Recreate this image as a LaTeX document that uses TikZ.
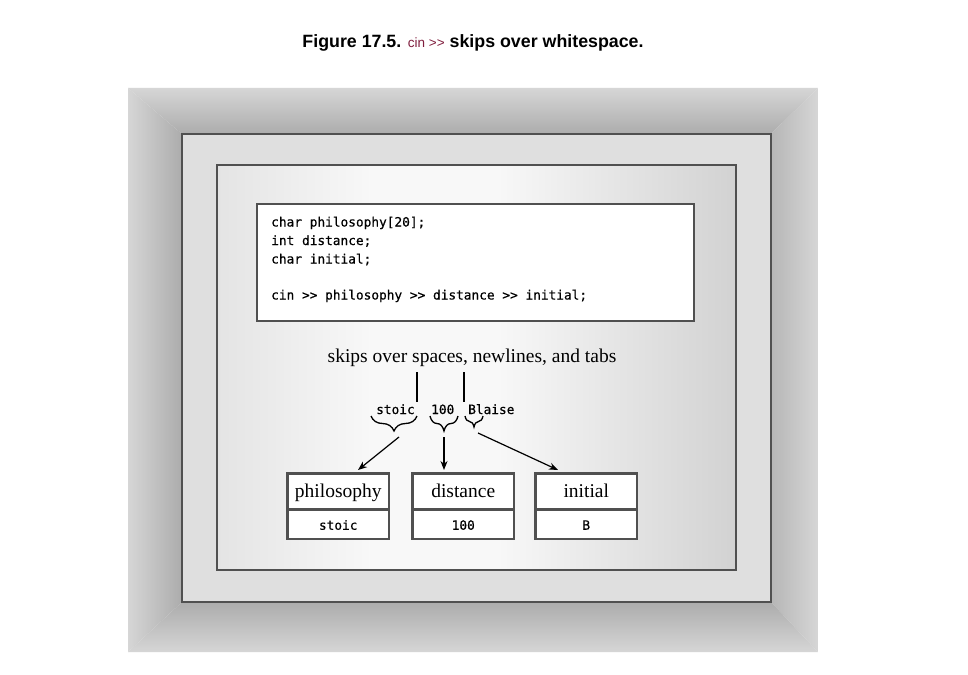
\documentclass[tikz,border=0pt]{standalone}
\usepackage{fontspec}
\setmainfont{Liberation Serif}
\newfontfamily\titlefont{Liberation Sans}
\newfontfamily\codefont[FakeBold=0.5]{DejaVu Sans Mono}
\usetikzlibrary{decorations.pathreplacing,arrows.meta}
\definecolor{frlight}{HTML}{D6D6D6}
\definecolor{frdark}{HTML}{ACACAC}
\definecolor{frdarkR}{HTML}{B6B6B6}
\definecolor{midgray}{HTML}{DFDFDF}
\definecolor{bordergray}{HTML}{505050}
\definecolor{inA}{HTML}{E4E4E4}
\definecolor{inB}{HTML}{F8F8F8}
\definecolor{inC}{HTML}{D2D2D2}
\definecolor{maroon}{RGB}{128,30,62}
\pgfdeclarehorizontalshading{innershade}{100bp}{color(0bp)=(inA); color(25bp)=(inA); color(40bp)=(inB); color(52bp)=(inB); color(75bp)=(inC); color(100bp)=(inC)}
\tikzset{
  frameline/.style={draw=bordergray, line width=2pt},
  codetext/.style={anchor=base west, inner sep=0pt, font=\codefont\fontsize{12.8}{14}\selectfont},
  serifbig/.style={font=\fontsize{19.5}{22}\selectfont},
  boxtop/.style={draw=bordergray, line width=1.5pt, fill=white, minimum width=101pt, minimum height=35pt, inner sep=0pt, text height=14pt, text depth=1pt, serifbig},
  boxbot/.style={draw=bordergray, line width=1.5pt, fill=white, minimum width=101pt, minimum height=28pt, inner sep=0pt, text height=11pt, text depth=0pt, font=\codefont\fontsize{12.8}{14}\selectfont},
  outline/.style={draw=bordergray, line width=1.6pt},
  bracedeco/.style={decorate, decoration={brace, mirror, amplitude=#1}, line width=1.3pt},
  arr/.style={-{Stealth[length=9pt,width=7pt]}, line width=1.2pt},
  vline/.style={line width=1.2pt}
}
\begin{document}
\begin{tikzpicture}[x=1pt,y=-1pt]
\useasboundingbox (0,0) rectangle (968,674);
\fill[white] (0,0) rectangle (968,674);
% title
\node[anchor=base, inner sep=0pt] (title) at (473,48) {\titlefont\fontsize{17.8}{20}\selectfont\bfseries Figure 17.5. {\mdseries\fontsize{13.5}{16}\selectfont\color{maroon}cin >>} skips over whitespace.};
% outer beveled frame
\begin{scope}
\clip (128,88) -- (818,88) -- (771,134) -- (182,134) -- cycle;
\shade[top color=frlight, bottom color=frdark] (128,88) rectangle (818,134);
\end{scope}
\begin{scope}
\clip (128,88) -- (182,134) -- (182,602) -- (128,652) -- cycle;
\shade[left color=frlight, right color=frdark] (128,88) rectangle (182,652);
\end{scope}
\begin{scope}
\clip (818,88) -- (771,134) -- (771,602) -- (818,652) -- cycle;
\shade[left color=frdarkR, right color=frlight] (771,88) rectangle (818,652);
\end{scope}
\begin{scope}
\clip (128,652) -- (182,602) -- (771,602) -- (818,652) -- cycle;
\shade[top color=frdark, bottom color=frlight] (128,602) rectangle (818,652);
\end{scope}
% middle panel
\fill[midgray] (182,134) rectangle (771,602);
\draw[frameline] (182,134) rectangle (771,602);
% inner panel
\shade[shading=innershade] (217,165) rectangle (736,570);
\draw[frameline] (217,165) rectangle (736,570);
% code box
\node[draw=bordergray, line width=2pt, fill=white, anchor=north west, minimum width=437pt, minimum height=117pt, inner sep=0pt] (code) at (256,203) {};
\node[codetext] (l1) at (271,226.5) {char philosophy[20];};
\node[codetext] (l2) at (271,245) {int distance;};
\node[codetext] (l3) at (271,263.5) {char initial;};
\node[codetext] (l4) at (271,299.5) {cin >> philosophy >> distance >> initial;};
% annotation
\node[anchor=base, inner sep=0pt, serifbig] (note) at (472,362) {skips over spaces, newlines, and tabs};
\coordinate (v1a) at (417,372); \coordinate (v1b) at (417,402);
\coordinate (v2a) at (464,372); \coordinate (v2b) at (464,402);
\draw[vline] (v1a) -- (v1b);
\draw[vline] (v2a) -- (v2b);
% input tokens
\node[codetext] (tstoic) at (376,414) {stoic};
\node[codetext] (t100) at (431,414) {100};
\node[codetext] (tblaise) at (468,414) {Blaise};
\coordinate (b1l) at (371,416); \coordinate (b1r) at (417,416);
\coordinate (b2l) at (430,416); \coordinate (b2r) at (458,416);
\coordinate (b3l) at (465,416); \coordinate (b3r) at (483,416);
\draw[bracedeco=15pt] (b1l) -- (b1r);
\draw[bracedeco=15pt] (b2l) -- (b2r);
\draw[bracedeco=11pt] (b3l) -- (b3r);
% variable boxes
\node[boxtop, anchor=north west] (phil) at (287,473) {philosophy};
\node[boxbot, anchor=north] (philv) at (phil.south) {stoic};
\node[boxtop, anchor=north west] (dist) at (412,473) {distance};
\node[boxbot, anchor=north] (distv) at (dist.south) {100};
\node[boxtop, anchor=north west] (init) at (535,473) {initial};
\node[boxbot, anchor=north] (initv) at (init.south) {B};
\draw[outline] (phil.north west) rectangle (philv.south east);
\draw[outline] (dist.north west) rectangle (distv.south east);
\draw[outline] (init.north west) rectangle (initv.south east);
% arrows
\coordinate (s1) at (399,437); \coordinate (e1) at (358,470);
\coordinate (s2) at (444,437); \coordinate (e2) at (444,470);
\coordinate (s3) at (478,433); \coordinate (e3) at (558,470);
\draw[arr] (s1) -- (e1);
\draw[arr] (s2) -- (e2);
\draw[arr] (s3) -- (e3);
\end{tikzpicture}
\end{document}
